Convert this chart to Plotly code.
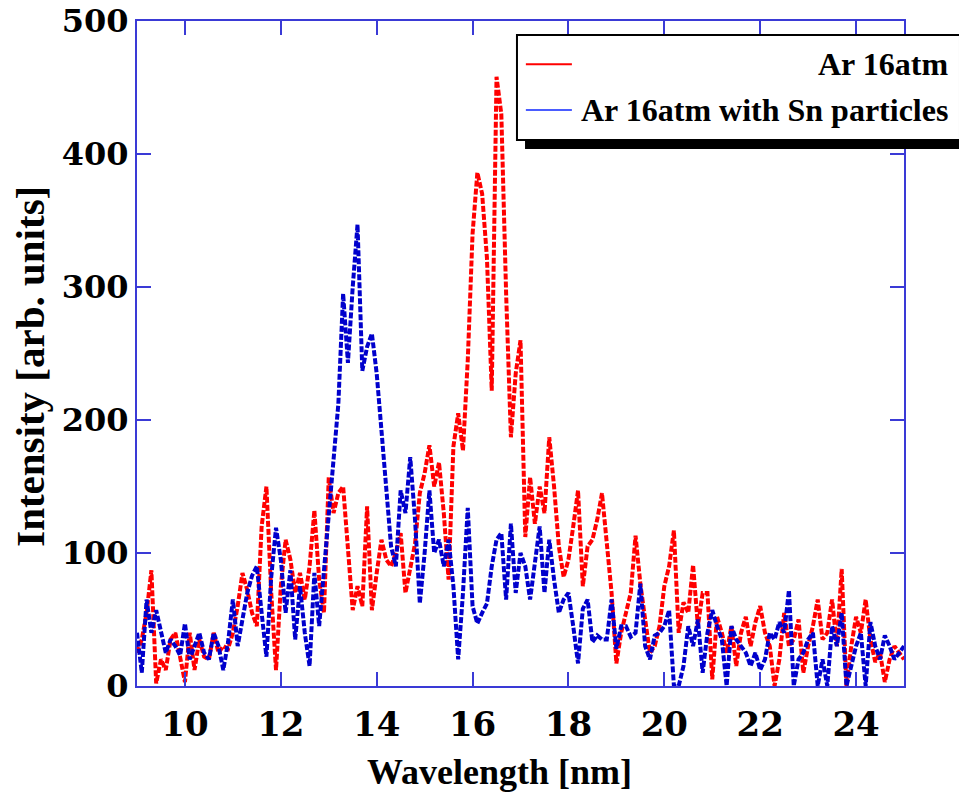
import numpy as np
import plotly.graph_objects as go

# Wavelength grid (nm), 0.1 nm step from 9.0 to 25.0
wavelength = [round(9.0 + 0.1 * i, 1) for i in range(161)]

ar_16atm = [
    25, 35, 55, 87, 2, 20, 12, 35, 40, 20,          # 9.0-9.9
    3, 40, 12, 35, 22, 20, 40, 25, 30, 28,          # 10.0-10.9
    40, 60, 85, 72, 55, 45, 120, 150, 70, 12,       # 11.0-11.9
    75, 110, 95, 70, 85, 65, 90, 132, 80, 55,       # 12.0-12.9
    157, 130, 145, 150, 100, 57, 75, 60, 135, 57,   # 13.0-13.9
    85, 110, 95, 90, 100, 115, 70, 90, 107, 145,    # 14.0-14.9
    160, 181, 150, 168, 130, 80, 180, 205, 177, 245,  # 15.0-15.9
    340, 386, 370, 322, 222, 458, 430, 295, 187, 235,  # 16.0-16.9
    260, 112, 157, 122, 150, 130, 187, 150, 105, 82,  # 17.0-17.9
    95, 120, 147, 75, 105, 110, 125, 145, 105, 70,  # 18.0-18.9
    17, 40, 55, 70, 113, 77, 50, 25, 30, 45,        # 19.0-19.9
    75, 90, 117, 40, 63, 55, 91, 45, 70, 70,        # 20.0-20.9
    5, 52, 40, 25, 45, 15, 40, 52, 30, 48,          # 21.0-21.9
    60, 40, 30, 0, 20, 55, 30, 35, 50, 10,          # 22.0-22.9
    30, 45, 65, 35, 40, 65, 30, 88, 0, 30,          # 23.0-23.9
    52, 40, 65, 35, 18, 25, 3, 20, 30, 25,          # 24.0-24.9
    20,                                             # 25.0
]

ar_16atm_sn = [
    40, 10, 65, 40, 57, 40, 25, 35, 30, 23,         # 9.0-9.9
    47, 20, 30, 40, 25, 20, 40, 30, 12, 33,         # 10.0-10.9
    65, 30, 50, 70, 83, 90, 55, 22, 82, 119,        # 11.0-11.9
    95, 55, 87, 35, 75, 40, 15, 85, 45, 87,         # 12.0-12.9
    122, 170, 212, 295, 243, 300, 347, 237, 255, 265,  # 13.0-13.9
    235, 192, 145, 105, 90, 147, 130, 172, 125, 62,  # 14.0-14.9
    100, 147, 100, 110, 90, 110, 75, 20, 70, 134,   # 15.0-15.9
    60, 47, 55, 62, 90, 110, 115, 65, 122, 70,      # 16.0-16.9
    100, 90, 65, 90, 120, 70, 110, 80, 55, 65,      # 17.0-17.9
    70, 45, 17, 58, 65, 33, 38, 35, 35, 65,         # 18.0-18.9
    28, 45, 45, 37, 40, 77, 30, 20, 38, 40,         # 19.0-19.9
    45, 57, 0, 0, 15, 45, 30, 50, 10, 40,           # 20.0-20.9
    57, 45, 35, 0, 45, 35, 30, 25, 15, 25,          # 21.0-21.9
    12, 20, 40, 35, 48, 40, 72, 0, 20, 25,          # 22.0-22.9
    35, 40, 0, 20, 0, 45, 30, 55, 0, 15,            # 23.0-23.9
    30, 40, 0, 48, 30, 20, 38, 30, 20, 25,          # 24.0-24.9
    30,                                             # 25.0
]

series_names = ["Ar 16atm", "Ar 16atm with Sn particles"]
x_ticks = [10, 12, 14, 16, 18, 20, 22, 24]
y_ticks = [0, 100, 200, 300, 400, 500]
x_title = "Wavelength [nm]"
y_title = "Intensity [arb. units]"

AXIS_BLUE = "#3a3ad6"
FONT = "Liberation Serif"
TICK_FONT = "DejaVu Serif"

fig = go.Figure()
fig.add_trace(go.Scatter(x=wavelength, y=ar_16atm, mode="lines", name=series_names[0],
                         line=dict(color="#ff0000", width=4, dash="6px,2px"), showlegend=False))
fig.add_trace(go.Scatter(x=wavelength, y=ar_16atm_sn, mode="lines", name=series_names[1],
                         line=dict(color="#0000cc", width=4, dash="6px,2px"), showlegend=False))

# Manual legend (box with drop shadow)
L, R, T, B = 0.4954, 1.073, 0.979, 0.821
fig.add_shape(type="rect", xref="paper", yref="paper", x0=L + 0.0105, x1=R + 0.0105,
              y0=B - 0.0135, y1=T - 0.0135, fillcolor="black", line=dict(width=0), layer="above")
fig.add_shape(type="rect", xref="paper", yref="paper", x0=L, x1=R, y0=B, y1=T,
              fillcolor="white", line=dict(color="black", width=2), layer="above")
fig.add_shape(type="line", xref="paper", yref="paper", x0=0.507, x1=0.567, y0=0.935, y1=0.935,
              line=dict(color="#ff0000", width=2), layer="above")
fig.add_shape(type="line", xref="paper", yref="paper", x0=0.507, x1=0.567, y0=0.866, y1=0.866,
              line=dict(color="#4a5cff", width=2), layer="above")
for name, yy in zip(series_names, [0.935, 0.866]):
    fig.add_annotation(text=f"<b>{name}</b>", xref="paper", yref="paper", x=1.06, y=yy,
                       xanchor="right", yanchor="middle", showarrow=False,
                       font=dict(family=FONT, size=32, color="black"))

# Axis titles
fig.add_annotation(text=f"<b>{x_title}</b>", xref="paper", yref="paper", x=0.472, y=-0.129,
                   xanchor="center", yanchor="middle", showarrow=False,
                   font=dict(family=FONT, size=36, color="black"))
fig.add_annotation(text=f"<b>{y_title}</b>", xref="paper", yref="paper", x=-0.1395, y=0.48,
                   xanchor="center", yanchor="middle", showarrow=False, textangle=-90,
                   font=dict(family=FONT, size=41, color="black"))

axis_common = dict(showline=True, linecolor=AXIS_BLUE, linewidth=2, mirror="ticks",
                   ticks="inside", ticklen=14, tickwidth=2, tickcolor=AXIS_BLUE,
                   showgrid=False, zeroline=False, automargin=False,
                   ticklabeloverflow="allow")

fig.update_xaxes(range=[9, 25], tickvals=x_ticks, ticktext=[f"<b>{v}</b>" for v in x_ticks],
                 ticklabelstandoff=7, tickfont=dict(family=TICK_FONT, size=34, color="black"),
                 **axis_common)
fig.update_yaxes(range=[0, 500], tickvals=y_ticks, ticktext=[f"<b>{v}</b>" for v in y_ticks],
                 ticklabelstandoff=0, tickfont=dict(family=TICK_FONT, size=32, color="black"),
                 **axis_common)

fig.update_layout(width=967, height=792, margin=dict(l=129, r=71, t=13, b=114),
                  plot_bgcolor="white", paper_bgcolor="white", showlegend=False)

fig.write_html("out.html")
